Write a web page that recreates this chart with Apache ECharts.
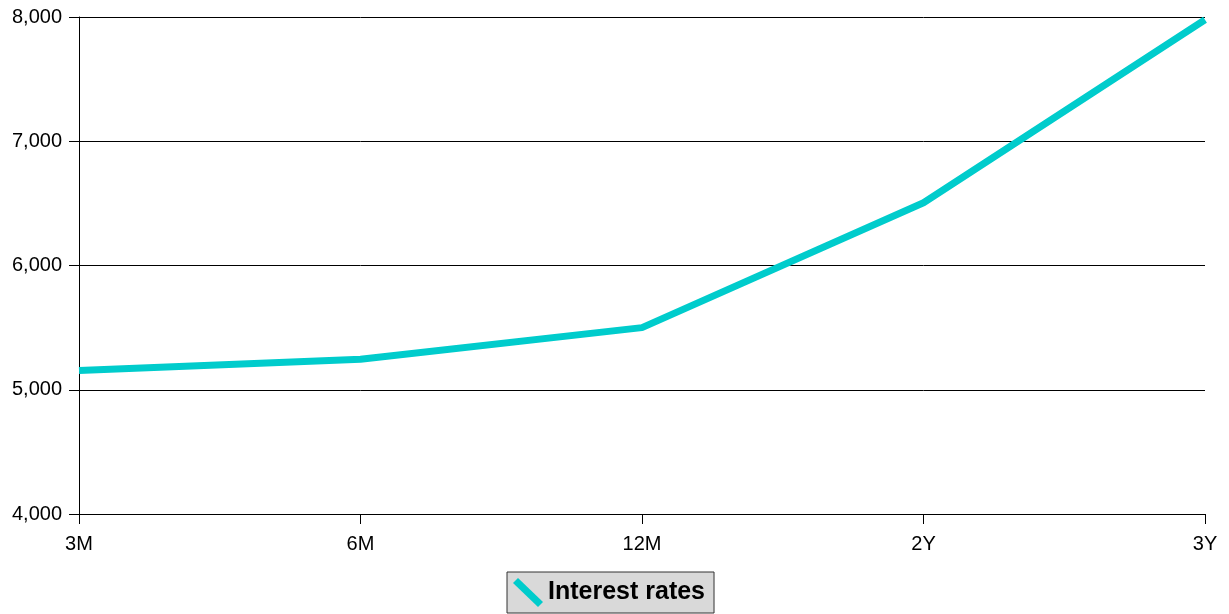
<!DOCTYPE html>
<html>
<head>
<meta charset="utf-8">
<script src="https://cdn.jsdelivr.net/npm/echarts@6/dist/echarts.min.js"></script>
<style>
html,body{margin:0;padding:0;background:#fff;}
#chart{width:1229px;height:614px;}
</style>
</head>
<body>
<div id="chart"></div>
<script>
var categories = ['3M', '6M', '12M', '2Y', '3Y'];
var seriesName = 'Interest rates';
var rates = [5155, 5245, 5500, 6505, 7978];
var yMin = 4000, yMax = 8000, yStep = 1000;

var FONT = '"Liberation Sans", Arial, sans-serif';
var chart = echarts.init(document.getElementById('chart'), null, {renderer: 'canvas'});
chart.setOption({
  backgroundColor: '#ffffff',
  animation: false,
  grid: {left: 79, right: 24, top: 17, bottom: 100, containLabel: false},
  legend: {
    data: [seriesName],
    left: 507,
    top: 572,
    padding: [6, 9, 6, 6],
    itemWidth: 30,
    itemHeight: 29,
    itemGap: 5,
    icon: 'path://M0,5 L5,0 L30,24 L25,29 Z',
    itemStyle: {color: '#00CCCC', borderWidth: 0},
    backgroundColor: '#d9d9d9',
    borderColor: '#333333',
    borderWidth: 1,
    borderRadius: 0,
    textStyle: {fontFamily: FONT, fontSize: 25, fontWeight: 'bold', color: '#000'}
  },
  xAxis: {
    type: 'category',
    data: categories,
    boundaryGap: false,
    axisLine: {show: true, lineStyle: {color: '#000', width: 1}},
    axisTick: {show: true, length: 10, inside: false, alignWithLabel: true, lineStyle: {color: '#000'}},
    axisLabel: {fontFamily: FONT, fontSize: 20, color: '#000', margin: 20},
    splitLine: {show: false}
  },
  yAxis: {
    type: 'value',
    min: yMin,
    max: yMax,
    interval: yStep,
    axisLine: {show: true, lineStyle: {color: '#000', width: 1}},
    axisTick: {show: true, length: 10, inside: false, lineStyle: {color: '#000'}},
    axisLabel: {
      fontFamily: FONT, fontSize: 20, color: '#000', margin: 17,
      formatter: function (v) { return v.toLocaleString('en-US'); }
    },
    splitLine: {show: true, lineStyle: {color: '#000', width: 1}}
  },
  series: [{
    name: seriesName,
    type: 'line',
    data: rates,
    symbol: 'none',
    showSymbol: false,
    lineStyle: {color: '#00CCCC', width: 7},
    itemStyle: {color: '#00CCCC'}
  }]
});
</script>
</body>
</html>
